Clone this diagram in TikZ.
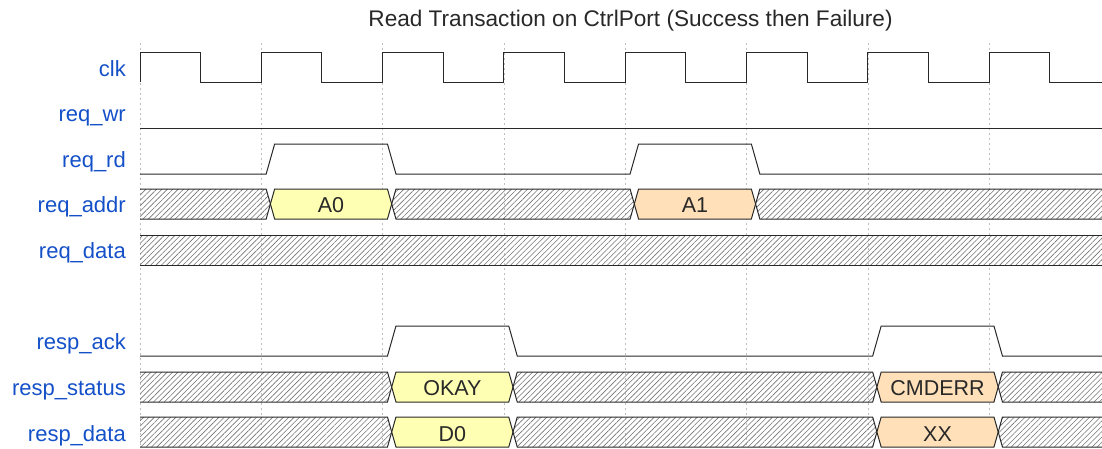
\documentclass[tikz,border=0pt]{standalone}
\usepackage{fontspec}
\setmainfont{Liberation Sans}
\usetikzlibrary{patterns.meta}
\definecolor{sigblue}{RGB}{20,80,200}
\definecolor{busyel}{RGB}{255,255,180}
\definecolor{busorg}{RGB}{255,224,185}
\definecolor{wavegray}{RGB}{40,40,40}
\tikzset{
  sig/.style={line width=1pt,draw=wavegray},
  hatch/.style={pattern={Lines[angle=45,distance=3.8pt,line width=0.6pt]},pattern color=black!55},
  gridline/.style={draw=black!25,line width=0.5pt,dash pattern=on 2pt off 3pt},
  lbl/.style={anchor=base east,text=sigblue,inner sep=0pt,font=\fontsize{22}{26}\selectfont},
  busval/.style={anchor=base,text=wavegray,inner sep=0pt,font=\fontsize{21.5}{25}\selectfont},
}
\begin{document}
\begin{tikzpicture}[x=121.3pt,y=-1pt]
      \useasboundingbox (-1.1542,0) rectangle (7.9307,448);
      % grid
      \draw[gridline] (0,43) -- (0,448);
      \draw[gridline] (1,43) -- (1,448);
      \draw[gridline] (2,43) -- (2,448);
      \draw[gridline] (3,43) -- (3,448);
      \draw[gridline] (4,43) -- (4,448);
      \draw[gridline] (5,43) -- (5,448);
      \draw[gridline] (6,43) -- (6,448);
      \draw[gridline] (7,43) -- (7,448);
      % title
      \node[anchor=base,text=wavegray,inner sep=0pt,font=\fontsize{22.6}{27}\selectfont] (title) at (4.044,26) {Read Transaction on CtrlPort (Success then Failure)};
      % labels
      \node[lbl] (lclk)     at (-0.1154,76)    {clk};
      \node[lbl] (lreqwr)   at (-0.1154,121.5) {req\_wr};
      \node[lbl] (lreqrd)   at (-0.1154,167)   {req\_rd};
      \node[lbl] (lreqaddr) at (-0.1154,212.5) {req\_addr};
      \node[lbl] (lreqdata) at (-0.1154,258)   {req\_data};
      \node[lbl] (lack)     at (-0.1154,349.5) {resp\_ack};
      \node[lbl] (lstatus)  at (-0.1154,395.5) {resp\_status};
      \node[lbl] (lrdata)   at (-0.1154,441)   {resp\_data};
      % clk
      \draw[sig] (0,82) -- (0,52) -- (0.5,52) -- (0.5,82) -- (1,82) -- (1,52) -- (1.5,52) -- (1.5,82)
        -- (2,82) -- (2,52) -- (2.5,52) -- (2.5,82) -- (3,82) -- (3,52) -- (3.5,52) -- (3.5,82)
        -- (4,82) -- (4,52) -- (4.5,52) -- (4.5,82) -- (5,82) -- (5,52) -- (5.5,52) -- (5.5,82)
        -- (6,82) -- (6,52) -- (6.5,52) -- (6.5,82) -- (7,82) -- (7,52) -- (7.5,52) -- (7.5,82) -- (7.95,82);
      % req_wr
      \draw[sig] (0,128) -- (7.95,128);
      % req_rd
      \draw[sig] (0,174) -- (1.04,174) -- (1.11,144) -- (2.04,144) -- (2.11,174) -- (4.04,174) -- (4.11,144)
        -- (5.04,144) -- (5.11,174) -- (7.95,174);
      % req_addr
      \draw[sig,hatch] (0,189) -- (1.04,189) -- (1.075,204) -- (1.04,219) -- (0,219);
      \draw[sig,fill=busyel] (1.075,204) -- (1.11,189) -- (2.04,189) -- (2.075,204) -- (2.04,219) -- (1.11,219) -- cycle;
      \node[busval] (va0) at (1.575,212.5) {A0};
      \draw[sig,hatch] (2.075,204) -- (2.11,189) -- (4.04,189) -- (4.075,204) -- (4.04,219) -- (2.11,219) -- cycle;
      \draw[sig,fill=busorg] (4.075,204) -- (4.11,189) -- (5.04,189) -- (5.075,204) -- (5.04,219) -- (4.11,219) -- cycle;
      \node[busval] (va1) at (4.575,212.5) {A1};
      \draw[sig,hatch] (7.95,189) -- (5.11,189) -- (5.075,204) -- (5.11,219) -- (7.95,219);
      % req_data
      \fill[hatch] (0,235) rectangle (7.95,265);
      \draw[sig] (0,235) -- (7.95,235) (0,265) -- (7.95,265);
      % resp_ack
      \draw[sig] (0,356) -- (2.04,356) -- (2.11,326) -- (3.04,326) -- (3.11,356) -- (6.04,356) -- (6.11,326)
        -- (7.04,326) -- (7.11,356) -- (7.95,356);
      % resp_status
      \draw[sig,hatch] (0,372) -- (2.04,372) -- (2.075,387) -- (2.04,402) -- (0,402);
      \draw[sig,fill=busyel] (2.075,387) -- (2.11,372) -- (3.04,372) -- (3.075,387) -- (3.04,402) -- (2.11,402) -- cycle;
      \node[busval] (vokay) at (2.575,395.5) {OKAY};
      \draw[sig,hatch] (3.075,387) -- (3.11,372) -- (6.04,372) -- (6.075,387) -- (6.04,402) -- (3.11,402) -- cycle;
      \draw[sig,fill=busorg] (6.075,387) -- (6.11,372) -- (7.04,372) -- (7.075,387) -- (7.04,402) -- (6.11,402) -- cycle;
      \node[busval] (vcmderr) at (6.575,395.5) {CMDERR};
      \draw[sig,hatch] (7.95,372) -- (7.11,372) -- (7.075,387) -- (7.11,402) -- (7.95,402);
      % resp_data
      \draw[sig,hatch] (0,417) -- (2.04,417) -- (2.075,432) -- (2.04,447) -- (0,447);
      \draw[sig,fill=busyel] (2.075,432) -- (2.11,417) -- (3.04,417) -- (3.075,432) -- (3.04,447) -- (2.11,447) -- cycle;
      \node[busval] (vd0) at (2.575,441) {D0};
      \draw[sig,hatch] (3.075,432) -- (3.11,417) -- (6.04,417) -- (6.075,432) -- (6.04,447) -- (3.11,447) -- cycle;
      \draw[sig,fill=busorg] (6.075,432) -- (6.11,417) -- (7.04,417) -- (7.075,432) -- (7.04,447) -- (6.11,447) -- cycle;
      \node[busval] (vxx) at (6.575,441) {XX};
      \draw[sig,hatch] (7.95,417) -- (7.11,417) -- (7.075,432) -- (7.11,447) -- (7.95,447);
\end{tikzpicture}
\end{document}
